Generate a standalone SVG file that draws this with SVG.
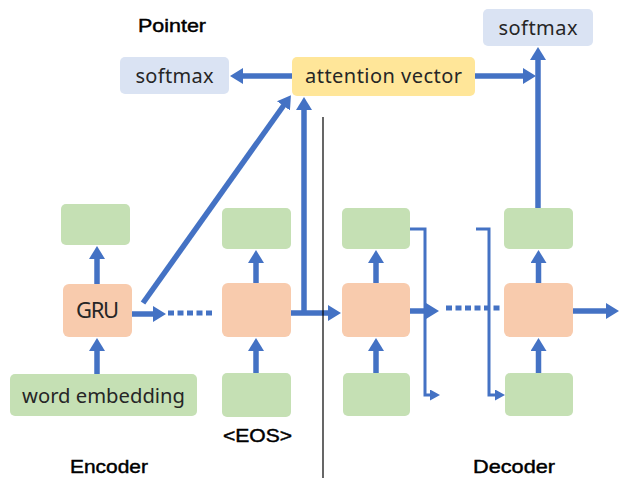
<svg xmlns="http://www.w3.org/2000/svg" width="619" height="480" viewBox="0 0 619 480">
<style>
.g{fill:#c5e0b4}
.o{fill:#f8cbad}
.b{fill:#dae3f3}
.y{fill:#ffe699}
.lbl{font-family:"Noto Sans","Liberation Sans",sans-serif;fill:#262626;text-anchor:middle}
.ttl{font-family:"Liberation Sans",Arial,sans-serif;font-size:19px;fill:#000;stroke:#000;stroke-width:0.45}
.c{stroke:#4472c4;stroke-width:5.5;fill:none;marker-end:url(#ah)}
.t{stroke:#4472c4;stroke-width:3;fill:none;marker-end:url(#as)}
.d{stroke:#4472c4;stroke-width:5;fill:none;stroke-dasharray:6 3.5}
</style>
<defs>
<marker id="ah" markerUnits="userSpaceOnUse" markerWidth="13" markerHeight="16" refX="1" refY="8" orient="auto">
<path d="M0,0 L13,8 L0,16 z" fill="#4472c4"/>
</marker>
<marker id="as" markerUnits="userSpaceOnUse" markerWidth="10" markerHeight="11" refX="1" refY="5.5" orient="auto">
<path d="M0,0 L10,5.5 L0,11 z" fill="#4472c4"/>
</marker>
</defs>

<g id="connectors">
<line class="c" x1="143" y1="303" x2="284" y2="105"/>
<line class="c" x1="97" y1="374" x2="97" y2="350"/>
<line class="c" x1="97" y1="284" x2="97" y2="258"/>
<line class="c" x1="256" y1="373" x2="256" y2="350"/>
<line class="c" x1="256" y1="283" x2="256" y2="262"/>
<line class="c" x1="132" y1="314" x2="154" y2="314"/>
<line class="d" x1="168" y1="313" x2="214" y2="313"/>
<line class="c" x1="291" y1="313" x2="329" y2="313"/>
<line class="c" x1="304" y1="313" x2="304" y2="109"/>
<line class="c" x1="292" y1="76" x2="242" y2="76"/>
<line class="c" x1="475" y1="76" x2="524" y2="76"/>
<line class="c" x1="538" y1="208" x2="538" y2="59"/>
<line class="c" x1="376" y1="373" x2="376" y2="350"/>
<line class="c" x1="376" y1="283" x2="376" y2="262"/>
<line class="c" x1="538.5" y1="373" x2="538.5" y2="350"/>
<line class="c" x1="538.5" y1="283" x2="538.5" y2="262"/>
<line class="c" x1="410" y1="311" x2="427" y2="311"/>
<line class="d" x1="446" y1="308" x2="500" y2="308"/>
<line class="c" x1="573" y1="311" x2="607" y2="311"/>
<path class="t" d="M410,229 H425 V395 H431"/>
<path class="t" d="M476,229 H489 V395 H496"/>
<line x1="323" y1="117" x2="323" y2="478" stroke="#000" stroke-width="1.2"/>
</g>

<g id="softmax_left"><rect class="b" x="120" y="57" width="109" height="37" rx="5"/><text class="lbl" x="174.5" y="83" font-size="20" textLength="78" lengthAdjust="spacing">softmax</text></g>
<g id="attention_vector"><rect class="y" x="292" y="57" width="183" height="39" rx="5"/><text class="lbl" x="383.5" y="83" font-size="20" textLength="157" lengthAdjust="spacing">attention vector</text></g>
<g id="softmax_right"><rect class="b" x="483" y="9" width="110" height="37" rx="5"/><text class="lbl" x="538" y="35" font-size="20" textLength="79" lengthAdjust="spacing">softmax</text></g>

<g id="enc_out1"><rect class="g" x="61" y="204" width="69" height="41" rx="5"/></g>
<g id="enc_gru"><rect class="o" x="63" y="284" width="69" height="53" rx="6"/><text class="lbl" x="97.5" y="318" font-size="22" textLength="43" lengthAdjust="spacing">GRU</text></g>
<g id="enc_embedding"><rect class="g" x="10" y="374" width="187" height="42" rx="5"/><text class="lbl" x="103.5" y="403" font-size="20" textLength="163" lengthAdjust="spacingAndGlyphs">word embedding</text></g>
<g id="enc_out2"><rect class="g" x="222" y="208" width="69" height="41" rx="5"/></g>
<g id="enc_h2"><rect class="o" x="222" y="283" width="69" height="54" rx="6"/></g>
<g id="enc_in2"><rect class="g" x="222" y="373" width="69" height="44" rx="5"/></g>

<g id="dec_out1"><rect class="g" x="342" y="208" width="68" height="41" rx="5"/></g>
<g id="dec_h1"><rect class="o" x="342" y="283" width="68" height="54" rx="6"/></g>
<g id="dec_in1"><rect class="g" x="343" y="373" width="67" height="43" rx="5"/></g>
<g id="dec_out2"><rect class="g" x="504" y="208" width="69" height="41" rx="5"/></g>
<g id="dec_h2"><rect class="o" x="504" y="283" width="69" height="54" rx="6"/></g>
<g id="dec_in2"><rect class="g" x="505" y="373" width="68" height="43" rx="5"/></g>

<g id="labels">
<text class="ttl" x="138" y="32" textLength="68" lengthAdjust="spacingAndGlyphs">Pointer</text>
<text class="ttl" x="223" y="442" textLength="69" lengthAdjust="spacingAndGlyphs">&lt;EOS&gt;</text>
<text class="ttl" x="70" y="473" textLength="78" lengthAdjust="spacingAndGlyphs">Encoder</text>
<text class="ttl" x="473" y="473" textLength="82" lengthAdjust="spacingAndGlyphs">Decoder</text>
</g>
</svg>
